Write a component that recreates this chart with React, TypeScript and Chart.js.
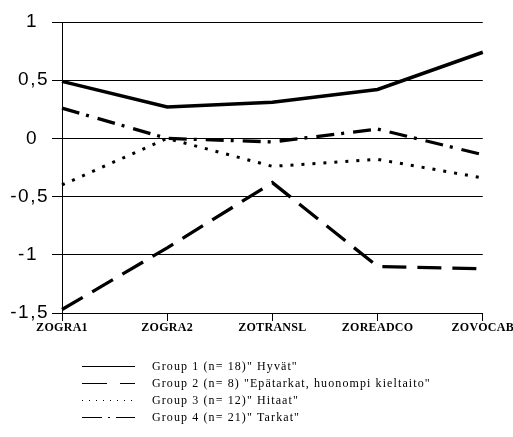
import React, { useEffect, useRef } from "react";
import { Chart, registerables } from "chart.js";

Chart.register(...registerables);

const categories = ["ZOGRA1", "ZOGRA2", "ZOTRANSL", "ZOREADCO", "ZOVOCAB"];
const group1 = [0.49, 0.27, 0.31, 0.42, 0.74];
const group2 = [-1.47, -0.94, -0.38, -1.1, -1.12];
const group3 = [-0.4, 0.0, -0.24, -0.18, -0.34];
const group4 = [0.26, 0.0, -0.03, 0.08, -0.14];
const seriesLabels = [
  'Group 1 (n= 18)" Hyvät"',
  'Group 2 (n= 8) "Epätarkat, huonompi kieltaito"',
  'Group 3 (n= 12)" Hitaat"',
  'Group 4 (n= 21)" Tarkat"',
];
const yTicks = [1, 0.5, 0, -0.5, -1, -1.5];

const legendPlugin = {
  id: "customLegend",
  afterDraw(chart: any) {
    const ctx = chart.ctx;
    ctx.save();
    chart.data.datasets.forEach((ds: any, i: number) => {
      const y = Math.round(366 + i * 16.9) + 0.5;
      ctx.beginPath();
      ctx.setLineDash(ds.legendDash || []);
      ctx.lineWidth = 1;
      ctx.strokeStyle = "#000";
      ctx.moveTo(82, y);
      ctx.lineTo(135, y);
      ctx.stroke();
      ctx.setLineDash([]);
      ctx.fillStyle = "#000";
      ctx.font = "12px 'Liberation Serif'";
      (ctx as any).letterSpacing = "1.1px";
      ctx.textBaseline = "middle";
      ctx.textAlign = "left";
      ctx.fillText(ds.label, 152, y);
    });
    ctx.restore();
  },
};

const bgPlugin = {
  id: "bg",
  beforeDraw(chart: any) {
    const ctx = chart.ctx;
    ctx.save();
    ctx.fillStyle = "#fff";
    ctx.fillRect(0, 0, chart.width, chart.height);
    ctx.restore();
  },
};

function patchLabels(scale: any, spacing: string) {
  if (scale.__patched) return;
  const orig = scale.drawLabels.bind(scale);
  scale.drawLabels = (area: any) => {
    const ctx = scale.ctx as any;
    const prev = ctx.letterSpacing;
    ctx.letterSpacing = spacing;
    orig(area);
    ctx.letterSpacing = prev || "0px";
  };
  scale.__patched = true;
}

export default function App() {
  const ref = useRef<HTMLCanvasElement>(null);
  useEffect(() => {
    if (!ref.current) return;
    const common = {
      borderColor: "#000",
      backgroundColor: "#000",
      pointRadius: 0,
      tension: 0,
      fill: false,
      borderCapStyle: "butt",
    };
    const chart = new Chart(ref.current, {
      type: "line",
      data: {
        labels: categories,
        datasets: [
          { ...common, label: seriesLabels[0], data: group1, borderWidth: 3.5, borderDash: [], legendDash: [] },
          { ...common, label: seriesLabels[1], data: group2, borderWidth: 3.3, borderDash: [24, 11], legendDash: [25, 13] },
          { ...common, label: seriesLabels[2], data: group3, borderWidth: 3, borderDash: [3, 8], legendDash: [1, 6] },
          { ...common, label: seriesLabels[3], data: group4, borderWidth: 3.3, borderDash: [18, 7, 3, 9], legendDash: [20, 6, 2, 6] },
        ] as any,
      },
      options: {
        animation: false,
        responsive: false,
        layout: { padding: { left: 0, right: 30, top: 22, bottom: 0 } },
        plugins: { legend: { display: false }, tooltip: { enabled: false } },
        scales: {
          x: {
            type: "category",
            offset: false,
            grid: { drawOnChartArea: false, drawTicks: true, tickLength: 8, color: "#000", lineWidth: 1 },
            border: { display: true, color: "#000", width: 1 },
            ticks: {
              color: "#000",
              font: { family: "'Liberation Serif'", size: 12, weight: "bold" },
              padding: 0,
              maxRotation: 0,
              autoSkip: false,
            },
            afterFit(scale: any) {
              scale.height = 124;
              patchLabels(scale, "0.3px");
            },
          },
          y: {
            min: yTicks[yTicks.length - 1],
            max: yTicks[0],
            afterBuildTicks(scale: any) {
              scale.ticks = yTicks.map((v) => ({ value: v }));
            },
            grid: { color: "#000", lineWidth: 1, drawTicks: true, tickLength: 10 },
            border: { display: true, color: "#000", width: 1 },
            ticks: {
              color: "#000",
              font: { family: "'Liberation Sans'", size: 19 },
              padding: 3,
              callback: (v: any) => {
                const n = Number(v);
                if (Number.isInteger(n)) return String(n) + "\u2002";
                return String(n).replace(".", ",");
              },
            },
            afterFit(scale: any) {
              scale.width = 62;
              patchLabels(scale, "1.5px");
            },
          },
        },
      } as any,
      plugins: [bgPlugin, legendPlugin],
    });
    return () => chart.destroy();
  }, []);
  return (
    <div style={{ position: "fixed", left: 0, top: 0, width: 513, height: 437, background: "#fff" }}>
      <canvas ref={ref} width={513} height={437} style={{ width: 513, height: 437, display: "block" }} />
    </div>
  );
}
